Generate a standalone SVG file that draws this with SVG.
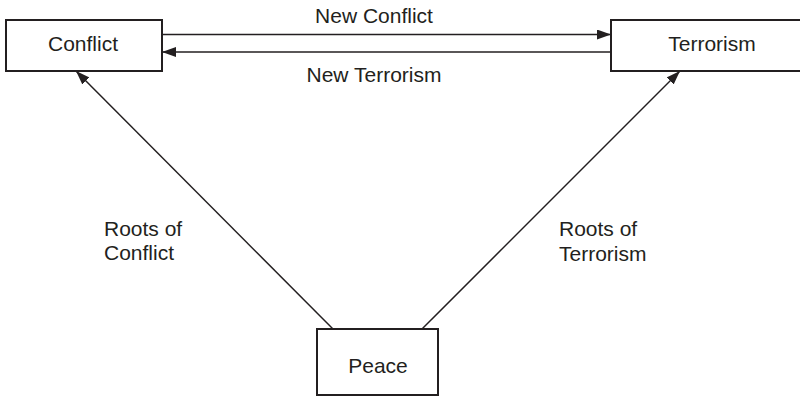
<svg xmlns="http://www.w3.org/2000/svg" width="800" height="398" viewBox="0 0 800 398">
  <style>
    .box { fill: #ffffff; stroke: #231f20; stroke-width: 2; }
    .link { stroke: #231f20; stroke-width: 1.5; fill: none; }
    text { font-family: "Liberation Sans", Arial, sans-serif; font-size: 21px; fill: #231f20; }
    .mid { text-anchor: middle; }
  </style>
  <defs>
    <marker id="arrow" viewBox="0 0 14 10" refX="14" refY="5" markerWidth="14" markerHeight="10" markerUnits="userSpaceOnUse" orient="auto">
      <path d="M0,0 L14,5 L0,10 Z" fill="#231f20"/>
    </marker>
  </defs>

  <g id="connectors">
    <line class="link" x1="162" y1="34.5" x2="611" y2="34.5" marker-end="url(#arrow)"/>
    <line class="link" x1="611" y1="52" x2="162" y2="52" marker-end="url(#arrow)"/>
    <line class="link" x1="333" y1="329" x2="76" y2="71" marker-end="url(#arrow)"/>
    <line class="link" x1="422" y1="329" x2="680" y2="71" marker-end="url(#arrow)"/>
    <text class="mid" x="374" y="22.5">New Conflict</text>
    <text class="mid" x="374" y="82">New Terrorism</text>
    <text x="104" y="236">Roots of</text>
    <text x="104" y="260">Conflict</text>
    <text x="559" y="236">Roots of</text>
    <text x="559" y="260.5">Terrorism</text>
  </g>

  <g id="conflict">
    <rect class="box" x="6" y="20" width="156" height="51"/>
    <text class="mid" x="83" y="51">Conflict</text>
  </g>

  <g id="terrorism">
    <rect class="box" x="611" y="20" width="200" height="51"/>
    <text class="mid" x="712" y="51">Terrorism</text>
  </g>

  <g id="peace">
    <rect class="box" x="317" y="329" width="121" height="66"/>
    <text class="mid" x="378" y="373">Peace</text>
  </g>
</svg>
